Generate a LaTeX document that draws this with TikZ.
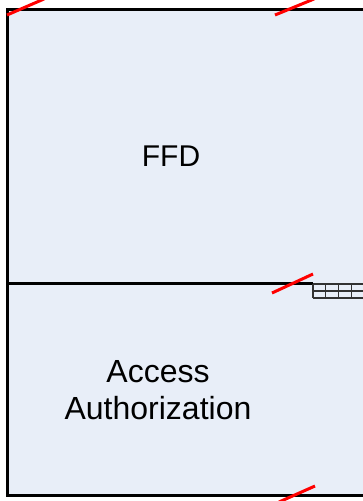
\documentclass[tikz,border=0pt]{standalone}
\usepackage{fontspec}
\setmainfont{Liberation Sans}
\definecolor{panelfill}{RGB}{232,238,248}
\definecolor{gridline}{RGB}{50,50,50}
\begin{document}
\begin{tikzpicture}[x=1pt,y=-1pt,
  border/.style={line width=3pt,black},
  breakmark/.style={red,line width=3pt},
  gridstyle/.style={gridline,line width=1.2pt},
  label/.style={font=\fontsize{30}{37}\selectfont,align=center,text=black}]
\useasboundingbox (0,0) rectangle (363,501);
% panel
\fill[panelfill] (7,9) rectangle (370,495);
\draw[border] (370,9) -- (7,9) -- (7,495) -- (370,495);
\draw[border] (7,283.5) -- (313,283.5);
% grid
\foreach \yy in {284,291,298} \draw[gridstyle] (313,\yy) -- (370,\yy);
\foreach \xx in {313,325.5,338.5,351.5} \draw[gridstyle] (\xx,284) -- (\xx,298);
% labels
\node[label] (ffd) at (171,156) {FFD};
\node[label,font=\fontsize{32}{37}\selectfont] (acc) at (158,390) {Access\\Authorization};
% break marks
\draw[breakmark] (7,15) -- (44,-1);
\draw[breakmark] (275,15) -- (314,-1);
\draw[breakmark] (272,293) -- (313,274);
\draw[breakmark] (279,502) -- (315,486);
\end{tikzpicture}
\end{document}
